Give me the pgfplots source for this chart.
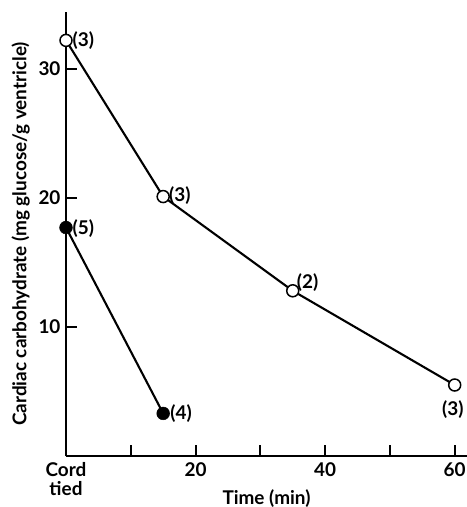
\documentclass[border=0pt]{standalone}
\usepackage{pgfplots}
\pgfplotsset{compat=1.18}
\usepackage{fontspec}
\setmainfont{Lato}

\begin{document}
\begin{tikzpicture}[x=1bp,y=1bp]
% page frame around the axis box (axis origin at 0,0)
\useasboundingbox (-66bp,-51bp) rectangle (401bp,456bp);
\begin{axis}[
  at={(0,0)}, anchor=south west,
  scale only axis,
  width=401bp, height=444bp,
  xmin=0, xmax=61.9, ymin=0, ymax=34.4,
  axis lines=left,
  axis line style={-, line width=2.4bp},
  clip=false,
  /pgf/number format/assume math mode=true,
  xtick={0,10,20,30,40,50,60},
  xticklabels={{Cord\\tied},,20,,40,,60},
  ytick={10,20,30},
  tick align=inside,
  major tick length=11bp,
  tick style={line width=2bp, black},
  x tick label style={align=center, font=\fontsize{19}{19}\selectfont\bfseries, yshift=-3bp},
  y tick label style={font=\fontsize{19}{19}\selectfont\bfseries, xshift=-2bp},
  xlabel={Time (min)},
  ylabel={Cardiac carbohydrate (mg glucose/g ventricle)},
  label style={font=\fontsize{19}{19}\selectfont\bfseries},
  xlabel style={yshift=13bp},
  ylabel style={yshift=2bp},
]
% open circles
\addplot[line width=2.1bp, mark=*, mark size=6bp,
  mark options={fill=white, line width=1.5bp}]
  coordinates {(0,32.2) (15,20.1) (35,12.8) (60,5.5)};
% filled circles
\addplot[line width=2.1bp, mark=*, mark size=6.4bp,
  mark options={fill=black, line width=0.5bp}]
  coordinates {(0,17.7) (15,3.3)};

\begin{scope}[font=\fontsize{19}{19}\selectfont\bfseries]
\node[anchor=west, inner sep=0pt] at (axis cs:1.0,32.2) {(3)};
\node[anchor=west, inner sep=0pt] at (axis cs:15.9,20.2) {(3)};
\node[anchor=west, inner sep=0pt] at (axis cs:35.6,13.4) {(2)};
\node[anchor=north, inner sep=0pt] at (axis cs:59.7,4.3) {(3)};
\node[anchor=west, inner sep=0pt] at (axis cs:1.0,17.6) {(5)};
\node[anchor=west, inner sep=0pt] at (axis cs:16.1,3.3) {(4)};
\end{scope}
\end{axis}
\end{tikzpicture}
\end{document}
